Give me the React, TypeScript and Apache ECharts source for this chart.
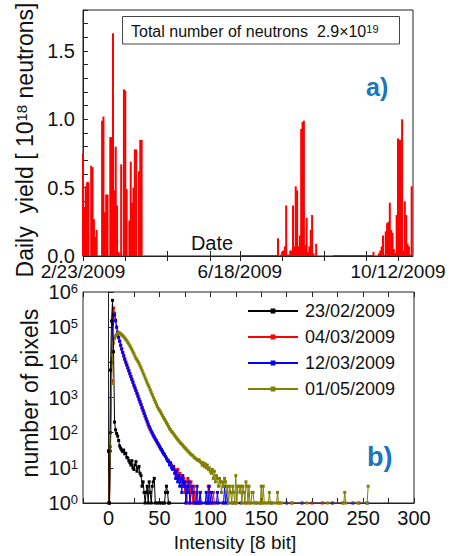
import React, { useEffect, useRef } from "react";
import * as echarts from "echarts";

const FONT = '"Liberation Sans", Arial, Helvetica, sans-serif';
const TXT = "#111111";
const AX = "#222222";

// ---------- panel a) daily neutron yield (day offset from 2/23/2009, 1e18 neutrons) ----------
const dateTickDays = [0, 31, 62, 93, 115, 146, 177, 208, 231];
const dateLabelDays = [0, 115, 231];

const springYield: [number, number][] = [
  [0, 0.75], [1, 0.36], [2, 0.51], [3, 0.54], [4, 0.54], [6, 0.66], [7, 0.65], [8, 0.27],
  [9, 0.14], [10, 0.19], [14, 0.99], [15, 1.02], [16, 0.32], [17, 0.45], [18, 0.45],
  [20, 0.87], [21, 0.87], [22, 1.63], [23, 0.48], [24, 0.8], [25, 0.37], [26, 0.03],
  [27, 0.02], [28, 0.67], [30, 1.22], [31, 1.21], [32, 0.49], [34, 0.26], [35, 0.69],
  [36, 0.39], [37, 0.5], [38, 0.78], [39, 0.78], [41, 0.62], [42, 0.85], [43, 0.85],
];
const summerYield: [number, number][] = [
  [143, 0.13], [145, 0.01], [146, 0.03], [147, 0.04], [148, 0.07], [149, 0.37], [150, 0.01],
  [151, 0.01], [152, 0.04], [153, 0.04], [154, 0.37], [155, 0.07], [156, 0.51], [157, 0.48],
  [158, 0.07], [159, 0.15], [160, 0.93], [161, 0.98], [162, 0.99], [163, 0.08], [164, 0.28],
  [165, 0.03], [166, 0.07], [167, 0.19], [168, 0.3], [169, 0.02], [171, 0.09],
];
const autumnYield: [number, number][] = [
  [213, 0.03], [217, 0.02], [218, 0.04], [219, 0.07], [220, 0.15], [221, 0.01], [222, 0.18],
  [223, 0.24], [224, 0.25], [225, 0.39], [226, 0.19], [227, 0.17], [228, 0.05], [229, 0.02],
  [230, 0.3], [231, 0.86], [232, 0.85], [233, 0.85], [234, 1.0], [235, 0.04], [236, 0.4],
  [237, 0.3], [238, 0.09], [239, 0.07], [240, 0.01], [241, 0.51],
];
const baselineYield: [number, number][] = [
  [117, 0.007], [118, 0.007], [119, 0.007], [120, 0.007], [121, 0.007], [122, 0.007], [123, 0.007],
  [124, 0.007], [125, 0.007], [126, 0.007], [127, 0.007], [128, 0.007], [129, 0.007], [130, 0.007],
  [131, 0.007], [132, 0.007], [133, 0.007], [134, 0.007], [135, 0.007], [136, 0.007], [137, 0.007],
  [138, 0.007], [139, 0.007], [140, 0.007], [141, 0.007], [142, 0.007],
  [184, 0.007], [185, 0.007], [186, 0.007], [187, 0.007], [188, 0.007], [189, 0.007], [190, 0.007],
  [191, 0.007], [192, 0.007], [193, 0.007], [194, 0.007], [195, 0.007], [196, 0.007], [197, 0.007],
  [198, 0.007], [199, 0.007], [200, 0.007], [201, 0.007], [202, 0.007], [203, 0.007], [204, 0.007],
  [205, 0.007], [206, 0.007], [207, 0.007], [208, 0.007], [209, 0.007], [210, 0.007], [211, 0.007],
  [212, 0.007],
];

// ---------- panel b) intensity histograms [intensity, number of pixels] ----------
const seriesNames = ["23/02/2009", "04/03/2009", "12/03/2009", "01/05/2009"];
const seriesColors = ["#000000", "#ff0000", "#0000ff", "#808000"];

const hist23Feb: [number, number][] = [
  [0, 30], [1, 1], [2, 6000], [3, 150000], [4, 580000], [5, 20000], [6, 200], [7, 120], [8, 95],
  [9, 80], [10, 60], [11, 42], [12, 36], [13, 32], [14, 29], [15, 32], [16, 25], [17, 26],
  [18, 20], [19, 19], [20, 16], [21, 14], [22, 12], [23, 16], [24, 10], [25, 9], [26, 12],
  [27, 15], [28, 8], [29, 10], [30, 11], [31, 7], [32, 6], [33, 3], [34, 4], [35, 2], [36, 1],
  [37, 2], [38, 3], [39, 1], [40, 4], [41, 2], [42, 1], [43, 3], [44, 4], [45, 5], [46, 1],
  [48, 1], [50, 1], [52, 1], [54, 1], [55, 1], [56, 2], [57, 3], [58, 2], [59, 1], [60, 1],
];
const hist04Mar: [number, number][] = [
  [0, 30], [1, 1], [2, 30], [3, 3000], [4, 150000], [5, 350000], [6, 250000], [7, 160000],
  [8, 100000], [9, 70000], [10, 50000], [11, 40000], [12, 30000], [13, 24000], [14, 19000],
  [15, 15000], [16, 12000], [17, 10000], [18, 8300], [19, 6900], [20, 5700], [21, 4700],
  [22, 3900], [23, 3200], [24, 2700], [25, 2200], [26, 1850], [27, 1550], [28, 1300], [29, 1070],
  [30, 890], [31, 740], [32, 620], [33, 500], [34, 420], [35, 350], [36, 290], [37, 240],
  [38, 200], [39, 165], [40, 140], [41, 123], [42, 107], [43, 93], [44, 81], [45, 72], [46, 65],
  [47, 57], [48, 50], [49, 45], [50, 40], [51, 35], [52, 32], [53, 28], [54, 25], [55, 23],
  [56, 21], [57, 19], [58, 17], [59, 16], [60, 14], [61, 13], [62, 12], [63, 11], [64, 10],
  [65, 9], [66, 8], [67, 6], [68, 9], [69, 5], [70, 7], [71, 4], [72, 6], [73, 3], [74, 5],
  [75, 2], [76, 4], [77, 1], [78, 5], [79, 3], [80, 1], [81, 4], [82, 2], [83, 1], [84, 3],
  [85, 1], [86, 2], [87, 1], [89, 1], [90, 2], [91, 1], [97, 1], [98, 3], [99, 1], [102, 1],
  [103, 2], [104, 1], [112, 1], [125, 1], [135, 1], [150, 1], [168, 1], [180, 1], [200, 1],
  [210, 1], [230, 1], [246, 1],
];
const hist12Mar: [number, number][] = [
  [0, 1], [1, 1], [2, 100], [3, 10000], [4, 120000], [5, 230000], [6, 220000], [7, 150000],
  [8, 100000], [9, 72000], [10, 52000], [11, 40000], [12, 31000], [13, 24000], [14, 19000],
  [15, 15500], [16, 12500], [17, 10200], [18, 8500], [19, 7000], [20, 5800], [21, 4800],
  [22, 3950], [23, 3300], [24, 2750], [25, 2250], [26, 1900], [27, 1580], [28, 1320], [29, 1100],
  [30, 900], [31, 760], [32, 630], [33, 520], [34, 430], [35, 360], [36, 300], [37, 250],
  [38, 210], [39, 175], [40, 150], [41, 128], [42, 110], [43, 98], [44, 85], [45, 76], [46, 66],
  [47, 60], [48, 53], [49, 47], [50, 42], [51, 37], [52, 33], [53, 30], [54, 26], [55, 24],
  [56, 21], [57, 18], [58, 16], [59, 15], [60, 12], [61, 14], [62, 10], [63, 9], [64, 11],
  [65, 7], [66, 5], [67, 8], [68, 4], [69, 6], [70, 3], [71, 5], [72, 2], [73, 6], [74, 3],
  [75, 4], [76, 1], [77, 3], [78, 2], [79, 4], [80, 1], [82, 3], [83, 2], [84, 1], [86, 1],
  [87, 3], [88, 1], [89, 1], [90, 2], [91, 1], [95, 1], [96, 2], [97, 1], [98, 1], [99, 3],
  [100, 1], [101, 2], [102, 1], [106, 1], [107, 2], [108, 1], [113, 1], [114, 3], [115, 1],
  [116, 2], [117, 1], [122, 1], [130, 1], [145, 1], [160, 1], [175, 1], [190, 1], [220, 1],
  [240, 1], [254, 1],
];
const hist01May: [number, number][] = [
  [0, 30], [1, 1], [2, 40], [3, 2500], [4, 16000], [5, 35000], [6, 48000], [7, 56000],
  [8, 62000], [9, 66000], [10, 69000], [11, 68000], [12, 65000], [13, 61000], [14, 57000],
  [15, 53000], [16, 49000], [17, 45000], [18, 41000], [19, 37000], [20, 33000], [21, 29500],
  [22, 26000], [23, 23000], [24, 20000], [25, 17500], [26, 15000], [27, 13000], [28, 11800],
  [29, 10500], [30, 9300], [31, 8000], [32, 6900], [33, 5900], [34, 5000], [35, 4300],
  [36, 3600], [37, 3100], [38, 2600], [39, 2250], [40, 1950], [41, 1650], [42, 1400], [43, 1200],
  [44, 1020], [45, 870], [46, 750], [47, 640], [48, 550], [49, 480], [50, 440], [51, 390],
  [52, 345], [53, 305], [54, 270], [55, 240], [56, 215], [57, 190], [58, 170], [59, 150],
  [60, 130], [61, 120], [62, 108], [63, 100], [64, 92], [65, 84], [66, 76], [67, 70], [68, 64],
  [69, 59], [70, 54], [71, 50], [72, 47], [73, 44], [74, 40], [75, 37], [76, 35], [77, 32],
  [78, 30], [79, 28], [80, 26], [81, 24], [82, 23], [83, 22], [84, 20], [85, 19], [86, 18],
  [87, 17], [88, 16], [89, 17], [90, 15], [91, 14], [92, 12], [93, 14], [94, 11], [95, 13],
  [96, 10], [97, 12], [98, 9], [99, 10], [100, 8], [101, 7], [102, 9], [103, 5], [104, 8],
  [105, 4], [106, 6], [107, 5], [108, 3], [109, 5], [110, 4], [111, 2], [112, 4], [113, 3],
  [114, 5], [115, 4], [116, 2], [117, 3], [118, 1], [119, 3], [120, 2], [121, 1], [122, 3],
  [123, 2], [124, 1], [125, 6], [126, 1], [127, 3], [128, 3], [129, 2], [130, 3], [131, 1],
  [132, 3], [133, 2], [134, 1], [135, 4], [136, 3], [137, 1], [138, 3], [139, 1], [140, 1],
  [141, 2], [142, 2], [143, 1], [145, 1], [148, 1], [149, 1], [150, 3], [151, 1], [152, 3],
  [153, 1], [155, 1], [157, 1], [158, 2], [159, 1], [162, 1], [165, 1], [166, 2], [167, 1],
  [170, 1], [180, 1], [195, 1], [215, 1], [231, 1], [232, 2], [233, 1], [245, 1], [254, 1],
  [255, 3],
];
const histograms = [hist23Feb, hist04Mar, hist12Mar, hist01May];
const histDrawOrder = [1, 2, 3, 0];

function fmtDate(v: number): string {
  const d = new Date(2009, 1, 23 + Math.round(v));
  return `${d.getMonth() + 1}/${d.getDate()}/${d.getFullYear()}`;
}

export default function App() {
  const ref = useRef<HTMLDivElement>(null);
  useEffect(() => {
    if (!ref.current) return;
    const chart = echarts.init(ref.current, undefined, { renderer: "svg" });
    const yieldSeries = [springYield, summerYield, autumnYield, baselineYield].map((d) => ({
      type: "bar",
      xAxisIndex: 0,
      yAxisIndex: 0,
      data: d,
      barWidth: 2,
      barGap: "-100%",
      itemStyle: { color: "#ff0000" },
      silent: true,
    }));
    const histSeries = histDrawOrder.map((i) => ({
      name: seriesNames[i],
      type: "line",
      xAxisIndex: 2,
      yAxisIndex: 1,
      data: histograms[i],
      symbol: "rect",
      symbolSize: 3,
      showAllSymbol: true,
      lineStyle: { width: 1, color: seriesColors[i] },
      itemStyle: { color: seriesColors[i] },
      z: i === 0 ? 5 : 2 + i * 0.1,
    }));
    const axisLineStyle = { lineStyle: { color: AX, width: 1 } };
    chart.setOption({
      animation: false,
      textStyle: { fontFamily: FONT },
      grid: [
        { left: 83, top: 10, width: 330, height: 246, show: true, borderColor: AX, borderWidth: 1, outerBoundsMode: "none" },
        { left: 83, top: 292, width: 331, height: 211, show: true, borderColor: AX, borderWidth: 1, outerBoundsMode: "none" },
      ],
      xAxis: [
        {
          type: "value", gridIndex: 0, min: 0, max: 242,
          axisLine: { onZero: false, ...axisLineStyle },
          splitLine: { show: false },
          axisTick: { inside: true, length: 5, customValues: dateTickDays, ...axisLineStyle },
          axisLabel: { customValues: dateLabelDays, formatter: fmtDate, fontSize: 19, lineHeight: 16, color: TXT, margin: 7, fontFamily: FONT },
        },
        {
          type: "value", gridIndex: 0, position: "top", min: 0, max: 242,
          axisLine: { show: false }, splitLine: { show: false },
          axisTick: { inside: true, length: 5, customValues: dateTickDays, ...axisLineStyle },
          axisLabel: { show: false },
        },
        {
          type: "value", gridIndex: 1, min: -25, max: 300, interval: 25,
          axisLine: { onZero: false, ...axisLineStyle },
          splitLine: { show: false },
          axisTick: { inside: true, length: 5, ...axisLineStyle },
          axisLabel: {
            formatter: (v: number) => (v % 50 === 0 ? String(v) : ""),
            fontSize: 20, color: TXT, margin: 5, fontFamily: FONT,
          },
        },
        {
          type: "value", gridIndex: 1, position: "top", min: -25, max: 300, interval: 25,
          axisLine: { show: false }, splitLine: { show: false },
          axisTick: { inside: true, length: 5, ...axisLineStyle },
          axisLabel: { show: false },
        },
      ],
      yAxis: [
        {
          type: "value", gridIndex: 0, min: 0, max: 1.8, interval: 0.1,
          axisLine: { show: true, ...axisLineStyle },
          splitLine: { show: false },
          axisTick: { show: true, inside: true, length: 5, ...axisLineStyle },
          axisLabel: {
            formatter: (v: number) => (Math.abs(v * 2 - Math.round(v * 2)) < 1e-6 ? v.toFixed(1) : ""),
            fontSize: 20, lineHeight: 12, color: TXT, margin: 8, fontFamily: FONT,
          },
        },
        {
          type: "log", logBase: 10, gridIndex: 1, min: 1, max: 1000000,
          axisLine: { show: true, ...axisLineStyle },
          splitLine: { show: false },
          axisTick: { show: true, inside: true, length: 5, ...axisLineStyle },
          axisLabel: {
            formatter: (v: number) => `10{sup|${Math.round(Math.log10(v))}}`,
            fontSize: 20, color: TXT, margin: 5, fontFamily: FONT,
            rich: { sup: { fontSize: 13, lineHeight: 8, verticalAlign: "top", fontFamily: FONT, color: TXT } },
          },
        },
      ],
      legend: {
        data: seriesNames,
        orient: "vertical",
        left: 242,
        top: 297,
        itemWidth: 50,
        itemHeight: 6,
        itemGap: 8,
        textStyle: { fontSize: 18, color: TXT, fontFamily: FONT, padding: [0, 0, 0, 2] },
        selectedMode: false,
      },
      graphic: [
        {
          type: "rect", z: 50,
          shape: { x: 122.5, y: 16.5, width: 277, height: 27.5 },
          style: { fill: "#ffffff", stroke: "#444444", lineWidth: 1 },
        },
        {
          type: "text", z: 51, x: 131, y: 31,
          style: {
            text: "Total number of neutrons  2.9×10{sup|19}",
            fontSize: 16, fontFamily: FONT, fill: TXT, verticalAlign: "middle", align: "left",
            rich: { sup: { fontSize: 11, lineHeight: 6, verticalAlign: "top", fontFamily: FONT, fill: TXT } },
          },
        },
        {
          type: "text", z: 51, x: 25, y: 140, rotation: Math.PI / 2,
          style: {
            text: "Daily  yield [ 10{sup|18} neutrons]",
            fontSize: 23, fontFamily: FONT, fill: TXT, align: "center", verticalAlign: "middle",
            rich: { sup: { fontSize: 15, lineHeight: 8, verticalAlign: "top", fontFamily: FONT, fill: TXT } },
          },
        },
        {
          type: "text", z: 51, x: 212, y: 243,
          style: { text: "Date", fontSize: 20, fontFamily: FONT, fill: TXT, align: "center", verticalAlign: "middle" },
        },
        {
          type: "text", z: 51, x: 366, y: 87,
          style: { text: "a)", fontSize: 25, fontWeight: "bold", fontFamily: FONT, fill: "#1c74bc", align: "left", verticalAlign: "middle" },
        },
        {
          type: "text", z: 51, x: 367, y: 457,
          style: { text: "b)", fontSize: 27, fontWeight: "bold", fontFamily: FONT, fill: "#1c74bc", align: "left", verticalAlign: "middle" },
        },
        {
          type: "text", z: 51, x: 30, y: 393, rotation: Math.PI / 2,
          style: { text: "number of pixels", fontSize: 23, fontFamily: FONT, fill: TXT, align: "center", verticalAlign: "middle" },
        },
        {
          type: "text", z: 51, x: 235, y: 542,
          style: { text: "Intensity [8 bit]", fontSize: 19, fontFamily: FONT, fill: TXT, align: "center", verticalAlign: "middle" },
        },
      ],
      series: [...yieldSeries, ...histSeries],
    });
    return () => chart.dispose();
  }, []);
  return <div ref={ref} style={{ width: 451, height: 556, position: "absolute", left: 0, top: 0, background: "#fff" }} />;
}
